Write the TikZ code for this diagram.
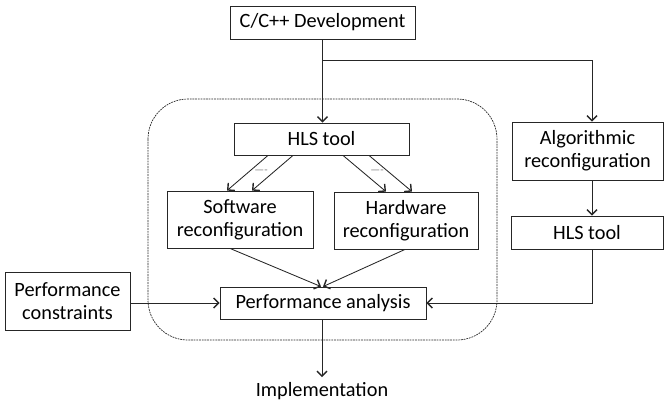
\documentclass[tikz,border=0pt]{standalone}
\usepackage{fontspec}
\setmainfont{Carlito}
\usetikzlibrary{arrows.meta,calc}
\begin{document}
\begin{tikzpicture}[x=1pt,y=-1pt,
  box/.style={draw=black!85,line width=0.85pt,inner sep=0pt,align=center,
    font=\fontsize{20.3}{23}\selectfont,text=black},
  conn/.style={draw=black!85,line width=0.85pt,-{Straight Barb[length=5pt,width=10pt,line width=1.4pt]}},
  dots/.style={text=black!50,font=\fontsize{11}{11}\selectfont,inner sep=0pt},
  region/.style={draw=black!85,line width=0.7pt,dash pattern=on 1.8pt off 0.9pt,rounded corners=40pt}]
\useasboundingbox (0,0) rectangle (664,408);
% dotted region
\draw[region] (148,99) rectangle (497,340);
% boxes
\node[box,minimum width=185pt,minimum height=33pt] (cpp) at (322.5,22.5) {C/C++ Development};
\node[box,minimum width=175pt,minimum height=32pt] (hls) at (321.5,139) {HLS tool};
\node[box,minimum width=146pt,minimum height=57pt] (sw) at (240,219.5) {Software\\reconfiguration};
\node[box,minimum width=144pt,minimum height=57pt] (hw) at (406,220.5) {Hardware\\reconfiguration};
\node[box,minimum width=151pt,minimum height=58pt] (alg) at (587.5,151) {Algorithmic\\reconfiguration};
\node[box,minimum width=152pt,minimum height=33pt] (hls2) at (587,232.5) {HLS tool};
\node[box,minimum width=125pt,minimum height=58pt] (pc) at (67.5,301.5) {Performance\\constraints};
\node[box,minimum width=206pt,minimum height=32pt] (pa) at (323,303) {Performance analysis};
\node[font=\fontsize{20.3}{23}\selectfont,text=black,anchor=north,inner xsep=0pt,inner ysep=0pt,outer ysep=0pt] (impl) at (322,377) {\rule{0pt}{19pt}Implementation};
% connectors
\coordinate (br) at ($(cpp.south)+(0,21)$);
\draw[conn] (cpp.south) -- (cpp.south |- hls.north);
\draw[conn] (br) -| ($(alg.north)+(4.5,0)$);
\draw[conn] ($(alg.south)+(4.5,0)$) -- ($(hls2.north)+(5,0)$);
\draw[conn] ($(hls2.south)+(5,0)$) |- (pa.east);
\draw[conn] (pc.east |- pa.west) -- (pa.west);
\draw[conn] ($(hls.south)+(-53.5,0)$) -- ($(sw.north)+(-13,0)$);
\draw[conn] ($(hls.south)+(-28.5,0)$) -- ($(sw.north)+(12,0)$);
\draw[conn] ($(hls.south)+(21.5,0)$) -- ($(hw.north)+(-20,0)$);
\draw[conn] ($(hls.south)+(47.5,0)$) -- ($(hw.north)+(6,0)$);
\draw[conn] ($(sw.south)+(-10,0)$) -- ($(pa.north)+(-2,0)$);
\draw[conn] ($(hw.south)+(-1,0)$) -- ($(pa.north)+(0,0)$);
\draw[conn] (pa.south -| impl.north) -- (impl.north);
\node[dots] (d1) at (261,172) {----};
\node[dots] (d2) at (377,172) {----};
\end{tikzpicture}
\end{document}
